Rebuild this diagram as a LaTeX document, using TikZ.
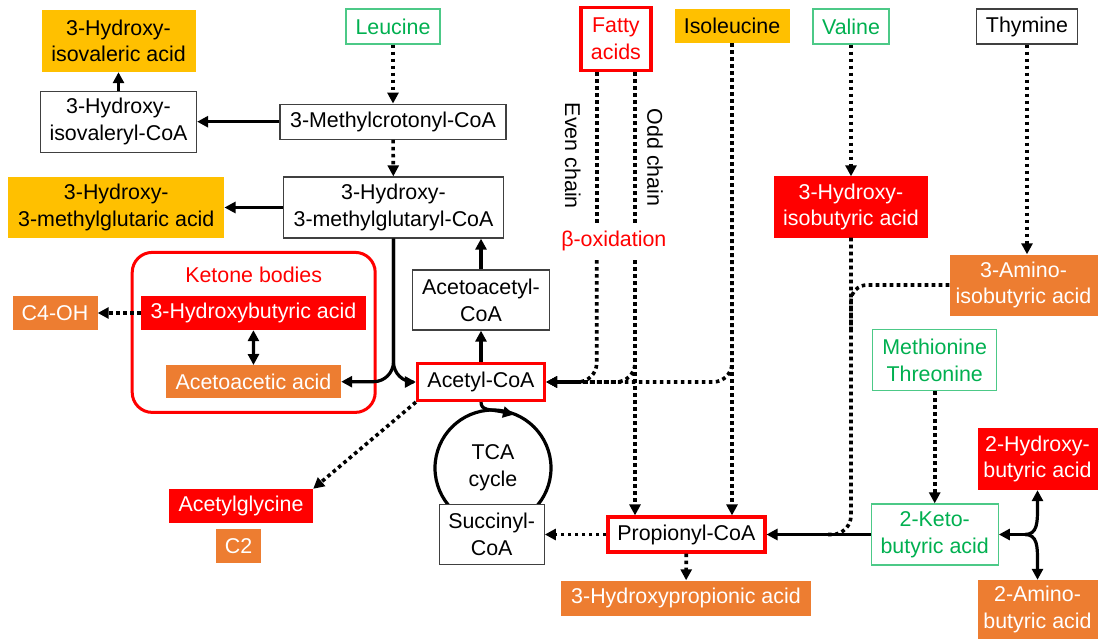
\documentclass[tikz,border=0pt]{standalone}
\usepackage{fontspec}
\setmainfont{Liberation Sans}
\usetikzlibrary{arrows.meta}
\definecolor{kegold}{HTML}{FFC000}
\definecolor{keorange}{HTML}{ED7D31}
\definecolor{kegreen}{HTML}{00B050}
\definecolor{kegreenline}{HTML}{4CC987}
\tikzstyle{mapstyle}=[
    x=1pt, y=-1pt,
    >={Triangle[length=11pt,width=11pt]},
    every node/.style={
        font=\fontsize{21.4}{26.7}\selectfont,
        align=center,
        inner sep=0pt,
    },
]
\tikzstyle{plainbox}=[draw=black!75, line width=1.3pt, fill=white]
\tikzstyle{goldbox}=[fill=kegold]
\tikzstyle{redbox}=[fill=red, text=white]
\tikzstyle{orangebox}=[fill=keorange, text=white]
\tikzstyle{greenbox}=[draw=kegreenline, line width=1.3pt, fill=white, text=kegreen]
\tikzstyle{keybox}=[draw=red, line width=3.2pt, fill=white]
\tikzstyle{conv}=[->, line width=3.2pt]
\tikzstyle{minor}=[->, line width=3.6pt, dash pattern=on 3.6pt off 3.4pt]
\tikzstyle{minorline}=[line width=3.6pt, dash pattern=on 3.6pt off 3.4pt]

\begin{document}
\begin{tikzpicture}[mapstyle]
    \useasboundingbox (0,0) rectangle (1099,639);
    \node (ketone) at (253.7,332.4) [draw=red, line width=3pt, rounded corners=20pt, minimum width=243pt, minimum height=160pt] {};
    \node (ketlabel) at (253.7,275) [text=red] {Ketone bodies};
    \node (hiva) at (118.5,41) [goldbox, minimum width=154pt, minimum height=62pt] {3-Hydroxy-\\isovaleric acid};
    \node (hivcoa) at (118.5,121.7) [plainbox, minimum width=156pt, minimum height=61pt] {3-Hydroxy-\\isovaleryl-CoA};
    \node (leu) at (393,26.5) [greenbox, minimum width=94pt, minimum height=35pt] {Leucine};
    \node (mccoa) at (393,121.7) [plainbox, minimum width=226pt, minimum height=35pt] {3-Methylcrotonyl-CoA};
    \node (hmgcoa) at (393.5,207.5) [plainbox, minimum width=220pt, minimum height=61pt] {3-Hydroxy-\\3-methylglutaryl-CoA};
    \node (hmga) at (116.3,207.5) [goldbox, minimum width=216pt, minimum height=61pt] {3-Hydroxy-\\3-methylglutaric acid};
    \node (fatty) at (615.9,39) [keybox, text=red, minimum width=70pt, minimum height=63pt] {Fatty\\acids};
    \node (ile) at (732,26.2) [goldbox, minimum width=115pt, minimum height=34pt] {Isoleucine};
    \node (val) at (851,26.5) [greenbox, minimum width=76pt, minimum height=35pt] {Valine};
    \node (thy) at (1027,26.5) [plainbox, minimum width=101pt, minimum height=35pt] {Thymine};
    \node (even) at (572.8,155.8) [rotate=-90] {Even chain};
    \node (odd) at (655,157.5) [rotate=-90] {Odd chain};
    \node (betaox) at (613.8,241) [text=red] {β-oxidation};
    \node (hiba) at (851,207) [redbox, minimum width=154pt, minimum height=61pt] {3-Hydroxy-\\isobutyric acid};
    \node (aiba) at (1023.5,285) [orangebox, minimum width=148pt, minimum height=61pt] {3-Amino-\\isobutyric acid};
    \node (hba) at (253.4,313) [redbox, minimum width=225pt, minimum height=34pt] {3-Hydroxybutyric acid};
    \node (aca) at (253.5,381.7) [orangebox, minimum width=175pt, minimum height=33pt] {Acetoacetic acid};
    \node (c4oh) at (55,313) [orangebox, minimum width=85pt, minimum height=34pt] {C4-OH};
    \node (aacoa) at (481,300) [plainbox, minimum width=137pt, minimum height=60pt] {Acetoacetyl-\\CoA};
    \node (acoa) at (481,382) [keybox, minimum width=127pt, minimum height=37pt] {Acetyl-CoA};
    \node (tca) at (493,468) [circle, draw, line width=3.2pt, minimum size=116pt] {TCA\\cycle};
    \node (succ) at (491.7,534.5) [plainbox, minimum width=105pt, minimum height=60pt] {Succinyl-\\CoA};
    \node (acgly) at (241,506) [redbox, minimum width=144pt, minimum height=34pt] {Acetylglycine};
    \node (c2) at (238.5,546.3) [orangebox, minimum width=45pt, minimum height=34pt] {C2};
    \node (propcoa) at (686.4,534.5) [keybox, minimum width=157pt, minimum height=35pt] {Propionyl-CoA};
    \node (hpa) at (686,598) [orangebox, minimum width=250pt, minimum height=35pt] {3-Hydroxypropionic acid};
    \node (mt) at (934.7,360) [greenbox, minimum width=124pt, minimum height=61pt] {Methionine\\Threonine};
    \node (kba) at (934.7,534.5) [greenbox, minimum width=127pt, minimum height=61pt] {2-Keto-\\butyric acid};
    \node (hbba) at (1037.5,459) [redbox, minimum width=120pt, minimum height=62pt] {2-Hydroxy-\\butyric acid};
    \node (aba) at (1037.5,609.5) [orangebox, minimum width=120pt, minimum height=59pt] {2-Amino-\\butyric acid};

    \coordinate (evtop) at (596.7,223);
    \coordinate (evbot) at (596.7,260);
    \coordinate (oddtop) at (635,223);
    \coordinate (oddbot) at (635,260);
    \coordinate (merge) at (826,534.5);
    \coordinate (aibajoin) at (851,330);
    \coordinate (kfork) at (1025,534.5);

    \draw[minor] (leu) -- (mccoa);
    \draw[conv] (mccoa) -- (hivcoa);
    \draw[conv] (hivcoa) -- (hiva);
    \draw[minor] (mccoa) -- (hmgcoa);
    \draw[conv] (hmgcoa) -- (hmga);
    \draw[conv, rounded corners=20pt] (hmgcoa.south) |- (aca.east);
    \draw[conv, rounded corners=20pt] (hmgcoa.south) |- (acoa.west);
    \draw[conv] (acoa) -- (aacoa);
    \draw[conv] (aacoa.north) -- (aacoa.north |- hmgcoa.south);
    \draw[conv, <->] (hba) -- (aca);
    \draw[minor] (hba) -- (c4oh);
    \draw[minor] (acoa.south west) -- (acgly.north east);
    \draw[conv] (acoa.south) .. controls (481,411) and (490,409) .. (514,414.5);

    \draw[minorline] (fatty.south -| evtop) -- (evtop);
    \draw[minorline] (fatty.south -| oddtop) -- (oddtop);
    \draw[minor, rounded corners=19pt] (evbot) |- (acoa.east);
    \draw[minor, rounded corners=19pt] (oddbot) |- (acoa.east);
    \draw[minor] (oddbot) -- (oddbot |- propcoa.north);
    \draw[minor, rounded corners=19pt] (ile.south) |- (acoa.east);
    \draw[minor] (ile.south) -- (ile.south |- propcoa.north);

    \draw[minor] (val) -- (hiba);
    \draw[minorline, rounded corners=19pt] (hiba.south) |- (merge);
    \draw[minorline, rounded corners=16pt] (aiba.west) -| (aibajoin);
    \draw[minor] (thy) -- (thy |- aiba.north);
    \draw[minor] (mt) -- (kba);
    \draw[conv] (kba) -- (propcoa);
    \draw[minor] (propcoa) -- (succ);
    \draw[minor] (propcoa) -- (hpa);
    \draw[conv] (kfork) -- (kba.east);
    \draw[conv] (kfork) .. controls (1037.5,534.5) and (1037.5,522) .. (1037.5,508) -- (hbba.south);
    \draw[conv] (kfork) .. controls (1037.5,534.5) and (1037.5,547) .. (1037.5,561) -- (aba.north);
\end{tikzpicture}
\end{document}
